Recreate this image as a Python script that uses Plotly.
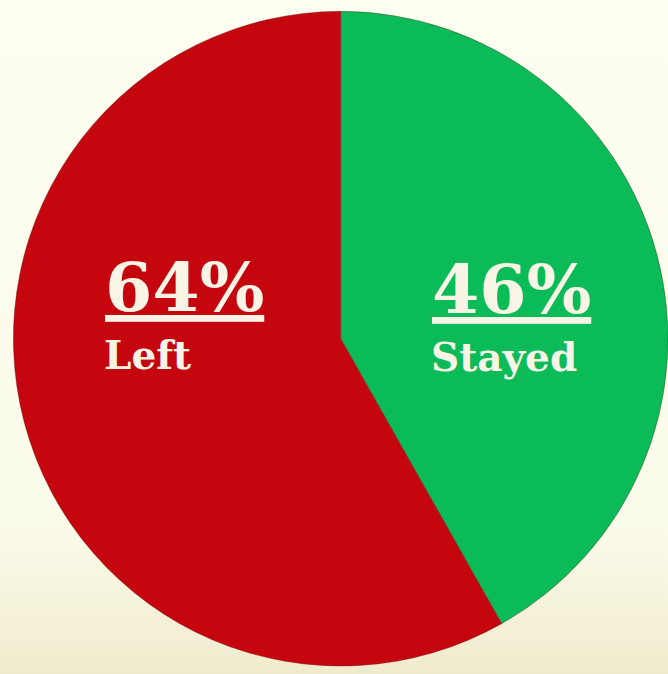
import base64
import plotly.graph_objects as go

labels = ["Stayed", "Left"]
values = [46, 64]
colors = ["#0bbb57", "#c5060f"]
pct_text = ["46%", "64%"]

bg_svg = (
    "<svg xmlns='http://www.w3.org/2000/svg' width='668' height='674'>"
    "<defs><linearGradient id='g' x1='0' y1='0' x2='0' y2='1'>"
    "<stop offset='0' stop-color='#fefef2'/>"
    "<stop offset='0.78' stop-color='#fbfbea'/>"
    "<stop offset='1' stop-color='#f1ebcd'/>"
    "</linearGradient></defs>"
    "<rect width='668' height='674' fill='url(#g)'/></svg>"
)
bg_uri = "data:image/svg+xml;base64," + base64.b64encode(bg_svg.encode()).decode()

fig = go.Figure()

fig.add_trace(
    go.Pie(
        labels=labels,
        values=values,
        sort=False,
        direction="clockwise",
        rotation=0,
        textinfo="none",
        hoverinfo="label+value",
        marker=dict(colors=colors, line=dict(color="rgba(90,20,20,0.35)", width=1)),
        domain=dict(x=[0.02, 1], y=[0.0, 0.995]),
        showlegend=False,
    )
)

font_big = dict(family="DejaVu Serif", size=68, color="#f8f4e6")
font_small = dict(family="DejaVu Serif", size=39, color="#f8f4e6")

fig.add_annotation(x=103 / 668, y=1 - 287 / 674, xref="paper", yref="paper",
                   text="<b><u>" + pct_text[1] + "</u></b>", showarrow=False,
                   xanchor="left", yanchor="middle", font=font_big)
fig.add_annotation(x=102 / 668, y=1 - 355 / 674, xref="paper", yref="paper",
                   text="<b>" + labels[1] + "</b>", showarrow=False,
                   xanchor="left", yanchor="middle", font=font_small)
fig.add_annotation(x=430 / 668, y=1 - 289 / 674, xref="paper", yref="paper",
                   text="<b><u>" + pct_text[0] + "</u></b>", showarrow=False,
                   xanchor="left", yanchor="middle", font=font_big)
fig.add_annotation(x=429 / 668, y=1 - 357 / 674, xref="paper", yref="paper",
                   text="<b>" + labels[0] + "</b>", showarrow=False,
                   xanchor="left", yanchor="middle", font=font_small)

fig.add_layout_image(
    source=bg_uri, xref="paper", yref="paper", x=0, y=1,
    sizex=1, sizey=1, sizing="stretch", layer="below",
    xanchor="left", yanchor="top",
)

fig.update_layout(
    width=668,
    height=674,
    paper_bgcolor="#fdfdef",
    plot_bgcolor="rgba(0,0,0,0)",
    margin=dict(l=0, r=0, t=0, b=0),
)

fig.write_html("out.html", config={"displayModeBar": False},
               post_script="document.body.style.margin='0';")
